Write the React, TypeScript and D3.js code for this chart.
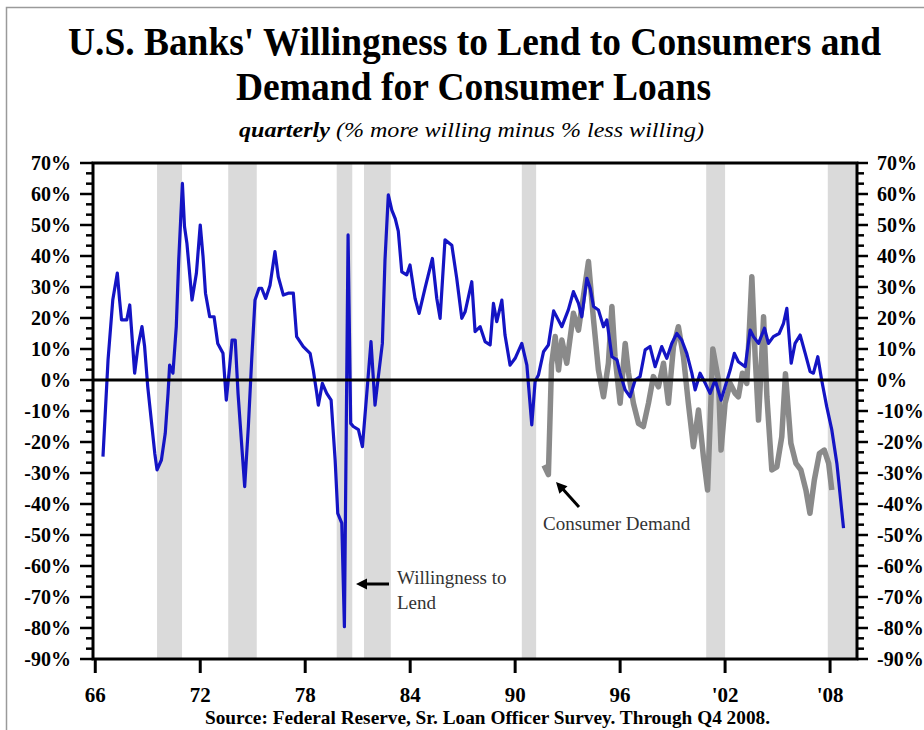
import React from 'react';
import * as d3 from 'd3';

const W = 924;
const H = 730;

const titleLine1 = "U.S. Banks' Willingness to Lend to Consumers and";
const titleLine2 = "Demand for Consumer Loans";
const subtitleBold = "quarterly";
const subtitleRest = " (% more willing minus % less willing)";
const sourceText = "Source:  Federal Reserve, Sr. Loan Officer Survey. Through Q4 2008.";

const xTickYears = [1966, 1972, 1978, 1984, 1990, 1996, 2002, 2008];
const xTickLabels = ["66", "72", "78", "84", "90", "96", "'02", "'08"];
const yTickValues = [70, 60, 50, 40, 30, 20, 10, 0, -10, -20, -30, -40, -50, -60, -70, -80, -90];

const recessions: [number, number][] = [
  [1969.53, 1970.96], [1973.6, 1975.23], [1979.8, 1980.69], [1981.36, 1982.89],
  [1990.38, 1991.2], [2000.92, 2002.0], [2007.87, 2009.54],
];

const willingness: [number, number][] = [
  [1966.44,-24.7],[1966.73,6.5],[1967.0,25.8],[1967.26,34.5],[1967.39,25.8],[1967.5,19.4],[1967.8,19.4],[1967.97,24.2],
  [1968.06,17.2],[1968.25,2.2],[1968.44,10.8],[1968.67,17.2],[1968.82,10.8],[1969.0,-2.2],[1969.2,-12.9],[1969.4,-23.6],
  [1969.53,-29],[1969.78,-25.8],[1970.0,-17.2],[1970.16,-4.3],[1970.25,4.8],[1970.44,2.2],[1970.63,17.2],[1970.77,38.7],
  [1970.98,63.4],[1971.1,49.5],[1971.24,44],[1971.53,25.8],[1971.78,34.4],[1972.0,50],[1972.16,39.8],[1972.3,28],
  [1972.54,20.4],[1972.79,20.4],[1973.0,11.8],[1973.3,8.6],[1973.49,-6.5],[1973.68,4.3],[1973.82,12.9],[1974.0,12.9],
  [1974.16,-4.3],[1974.39,-22.6],[1974.54,-34.4],[1974.75,-15],[1974.94,6.5],[1975.13,25.8],[1975.36,29.6],[1975.51,29.6],
  [1975.74,26.3],[1975.99,30.6],[1976.27,41.4],[1976.46,33.3],[1976.75,27.4],[1977.03,28],[1977.32,28],[1977.51,14],
  [1977.89,10.8],[1978.28,8.6],[1978.46,3.2],[1978.66,-4.3],[1978.75,-8.1],[1978.98,-1.1],[1979.23,-4.3],[1979.48,-6.5],
  [1979.71,-25.8],[1979.86,-43],[1980.09,-46.2],[1980.24,-79.6],[1980.45,46.8],[1980.6,-14],[1980.75,-15],[1981.04,-16],
  [1981.27,-21.5],[1981.52,-4.3],[1981.76,12.4],[1981.99,-8.1],[1982.18,1.1],[1982.41,11.8],[1982.56,38.7],[1982.75,59.7],
  [1982.95,54.8],[1983.15,52],[1983.32,48],[1983.52,34.9],[1983.8,33.9],[1983.99,37.1],[1984.28,26.3],[1984.51,21.5],
  [1984.85,29.6],[1985.27,39.2],[1985.52,26.3],[1985.71,19.9],[1985.99,45.2],[1986.38,43.5],[1986.66,32.8],[1986.95,19.9],
  [1987.14,22],[1987.52,31.7],[1987.71,15.6],[1988.0,17.2],[1988.28,12.4],[1988.57,11.3],[1988.76,24.7],[1988.95,18.8],
  [1989.24,25.8],[1989.42,14.5],[1989.71,4.8],[1990.0,7],[1990.38,11.8],[1990.67,4.8],[1990.95,-14.5],[1991.14,-0.5],
  [1991.33,1.6],[1991.62,9.1],[1991.9,11.3],[1992.2,22.3],[1992.67,17.2],[1993.04,22.6],[1993.33,28.5],[1993.62,24.7],
  [1993.81,20.4],[1994.1,32.8],[1994.29,29.6],[1994.48,23.7],[1994.76,22.6],[1995.05,17.2],[1995.24,19.4],[1995.53,7.5],
  [1995.82,6.5],[1996.0,2.2],[1996.29,-3.2],[1996.57,-5.4],[1996.86,0],[1997.14,1.1],[1997.43,9.7],[1997.71,10.8],
  [1998.0,4.3],[1998.38,10.8],[1998.67,7],[1998.95,11.8],[1999.24,15],[1999.52,12.9],[1999.81,8.6],[2000.1,2.2],
  [2000.29,-3.2],[2000.57,2.2],[2000.86,-1],[2001.14,-4.3],[2001.43,0],[2001.77,-6.5],[2002.0,-2.2],[2002.29,3.2],
  [2002.53,8.6],[2002.76,5.9],[2003.15,4.3],[2003.43,16.1],[2003.62,14],[2003.91,11.8],[2004.25,16.7],[2004.48,11.8],
  [2004.76,14],[2005.09,15],[2005.34,18.3],[2005.53,23.1],[2005.78,5.4],[2006.0,11.8],[2006.29,14.5],[2006.58,8.6],
  [2006.86,2.7],[2007.05,2.2],[2007.3,7.5],[2007.52,0],[2007.81,-8.6],[2008.1,-16.1],[2008.39,-26.9],[2008.77,-47.8],
];

const demand: [number, number][] = [
  [1991.65,-27.5],[1991.9,-30.5],[1992.08,5],[1992.29,14],[1992.48,3.2],[1992.67,12.9],[1992.95,5.4],[1993.33,21.5],
  [1993.62,16.1],[1993.9,26.9],[1994.19,38.2],[1994.48,19.4],[1994.76,3.2],[1995.05,-5.4],[1995.33,5.4],[1995.53,23.7],
  [1995.71,7.5],[1996.0,-7.5],[1996.29,11.8],[1996.48,2.2],[1996.76,-7.5],[1997.05,-14],[1997.33,-15],[1997.62,-7.5],
  [1997.9,1.1],[1998.19,-2.2],[1998.48,5.4],[1998.76,-7.5],[1999.05,10.8],[1999.33,17.2],[1999.62,7.5],[1999.9,-7.5],
  [2000.19,-21.5],[2000.48,-9.7],[2000.76,-24.7],[2001.0,-35.5],[2001.3,10],[2001.62,0],[2001.77,-22.6],[2002.0,-7.5],
  [2002.29,-1.1],[2002.57,-4.3],[2002.76,-5.4],[2002.99,2.2],[2003.24,-1.1],[2003.53,33.3],[2003.72,7.5],[2003.91,-12.9],
  [2004.2,20.4],[2004.39,-5.4],[2004.67,-29],[2004.96,-28],[2005.24,-18.3],[2005.45,2],[2005.76,-20.4],[2006.05,-26.9],
  [2006.33,-29],[2006.62,-35.5],[2006.85,-43],[2007.1,-32.3],[2007.39,-23.7],[2007.67,-22.6],[2007.92,-26.9],[2008.1,-35.5],
];

const SERIF = "'Liberation Serif', 'Times New Roman', serif";

export default function App() {
  const left = 93, right = 857, top = 163, bottom = 659;
  const x = d3.scaleLinear().domain([1965.87, 2009.54]).range([left, right]);
  const y = d3.scaleLinear().domain([-90, 70]).range([bottom, top]);
  const line = d3.line<[number, number]>().x(d => x(d[0])).y(d => y(d[1]));
  const minorTicks = d3.range(0, 49).map(i => -90 + (i * 10) / 3);

  const arrowHead = (x1: number, y1: number, x2: number, y2: number, len = 11, half = 5.5) => {
    const a = Math.atan2(y2 - y1, x2 - x1);
    const bx = x2 - len * Math.cos(a), by = y2 - len * Math.sin(a);
    const px = -Math.sin(a) * half, py = Math.cos(a) * half;
    return `M${x2},${y2}L${bx + px},${by + py}L${bx - px},${by - py}Z`;
  };

  return (
    <svg width={W} height={H} style={{ position: 'absolute', left: 0, top: 0, background: '#fff' }}
      fontFamily={SERIF}>
      <rect x={0} y={0} width={W} height={H} fill="#fff" />
      {/* outer frame */}
      <path d={`M6.5,${H}V7.5H${W}`} fill="none" stroke="#9a9a9a" strokeWidth={1.5} />

      {/* titles */}
      <g transform="translate(474.5,55) scale(1,1.08)">
        <text x={0} y={0} textAnchor="middle" fontSize={37} fontWeight="bold"
          textLength={813} lengthAdjust="spacingAndGlyphs">{titleLine1}</text>
      </g>
      <g transform="translate(473.5,100) scale(1,1.08)">
        <text x={0} y={0} textAnchor="middle" fontSize={37} fontWeight="bold"
          textLength={475} lengthAdjust="spacingAndGlyphs">{titleLine2}</text>
      </g>
      <text x={471.5} y={137} textAnchor="middle" fontSize={22} fontStyle="italic"
        textLength={465} lengthAdjust="spacingAndGlyphs">
        <tspan fontWeight="bold">{subtitleBold}</tspan>
        <tspan>{subtitleRest}</tspan>
      </text>

      {/* recession shading */}
      {recessions.map(([a, b], i) => (
        <rect key={i} x={x(a)} y={top} width={x(b) - x(a)} height={bottom - top} fill="#dadada" />
      ))}

      {/* series */}
      <path d={line(demand) || ''} fill="none" stroke="#8a8a8a" strokeWidth={5.5} strokeLinejoin="round" />
      <path d={line(willingness) || ''} fill="none" stroke="#1414c4" strokeWidth={3.2} strokeLinejoin="round" />

      {/* zero line */}
      <line x1={left} x2={right} y1={y(0)} y2={y(0)} stroke="#000" strokeWidth={3} />

      {/* plot frame */}
      <rect x={left} y={top} width={right - left} height={bottom - top} fill="none" stroke="#000" strokeWidth={3} />

      {/* y ticks */}
      {minorTicks.map((v, i) => {
        const major = i % 3 === 0;
        const yy = y(v);
        return (
          <g key={i}>
            <line x1={left - (major ? 13 : 7)} x2={left} y1={yy} y2={yy} stroke="#000" strokeWidth={2.5} />
            <line x1={right} x2={right + (major ? 11 : 7)} y1={yy} y2={yy} stroke="#000" strokeWidth={2.5} />
          </g>
        );
      })}
      {yTickValues.map(v => (
        <g key={v}>
          <text x={71} y={y(v) + 6.5} textAnchor="end" fontSize={20} fontWeight="bold">{`${v}%`}</text>
          <text x={877} y={y(v) + 6.5} textAnchor="start" fontSize={20} fontWeight="bold">{`${v}%`}</text>
        </g>
      ))}

      {/* x ticks */}
      {xTickYears.map((yr, i) => (
        <g key={yr}>
          <line x1={x(yr)} x2={x(yr)} y1={bottom} y2={bottom + 14} stroke="#000" strokeWidth={3} />
          <text x={x(yr)} y={702} textAnchor="middle" fontSize={21} fontWeight="bold">{xTickLabels[i]}</text>
        </g>
      ))}

      {/* source */}
      <text x={205} y={724} fontSize={19} fontWeight="bold" textLength={565}
        lengthAdjust="spacingAndGlyphs">{sourceText}</text>

      {/* annotations */}
      <line x1={389} y1={584} x2={362} y2={584} stroke="#000" strokeWidth={3} />
      <path d={arrowHead(389, 584, 356, 584)} fill="#000" />
      <text x={397} y={584} fontSize={19} fill="#333">Willingness to</text>
      <text x={397} y={609} fontSize={19} fill="#333">Lend</text>

      <line x1={579} y1={507} x2={561} y2={487} stroke="#000" strokeWidth={3} />
      <path d={arrowHead(579, 507, 556, 482)} fill="#000" />
      <text x={543} y={530} fontSize={19} fill="#333">Consumer Demand</text>
    </svg>
  );
}
